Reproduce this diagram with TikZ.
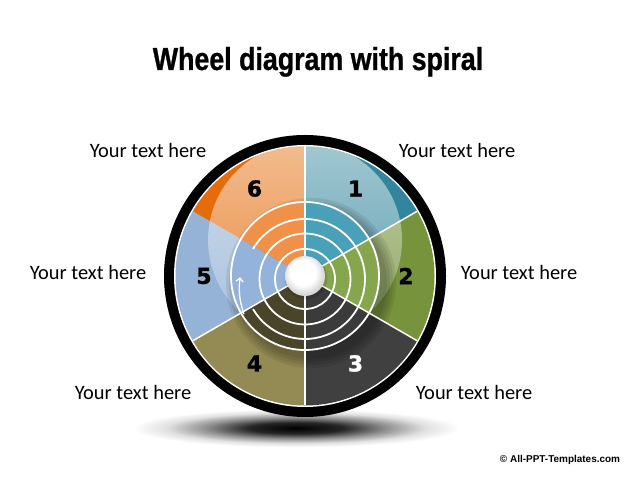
\documentclass[tikz,border=0pt]{standalone}
\usepackage{fontspec}
\setmainfont{Carlito}
\newfontfamily\titlefont[FakeStretch=0.84,FakeBold=0.8]{Liberation Sans}
\newfontfamily\numfont[FakeBold=1.2]{DejaVu Sans}
\newfontfamily\footfont{Liberation Sans}
\usepackage{tikz}
\usetikzlibrary{arrows.meta, positioning, calc, fadings}
\definecolor{segA}{HTML}{31859C}
\definecolor{segB}{HTML}{77933C}
\definecolor{segC}{HTML}{404040}
\definecolor{segD}{HTML}{948A54}
\definecolor{segE}{HTML}{95B3D7}
\definecolor{segF}{HTML}{E46C0A}
\definecolor{innA}{HTML}{4BA0B9}
\definecolor{innB}{HTML}{86A64E}
\definecolor{innC}{HTML}{3B3B3B}
\definecolor{innD}{HTML}{4A4428}
\definecolor{innE}{HTML}{93B3DB}
\definecolor{innF}{HTML}{EF9149}
\pgfdeclareradialshading{groundshadow}{\pgfpoint{0bp}{0bp}}{color(0bp)=(black); color(7bp)=(black!85); color(13bp)=(black!45); color(19bp)=(black!12); color(24bp)=(white); color(50bp)=(white)}
\pgfdeclareradialshading{ballglow}{\pgfpoint{-4bp}{6bp}}{color(0bp)=(white); color(16bp)=(white); color(25bp)=(black!15); color(50bp)=(black!15)}
\tikzfading[name=glossfade, top color=transparent!0, bottom color=transparent!65]

\begin{document}
\begin{tikzpicture}[x=1bp,y=1bp,
    lbl/.style={font=\fontsize{20.5}{24}\selectfont},
    num/.style={font=\numfont\bfseries\fontsize{22}{26}\selectfont},
    ring/.style={draw=white, line width=1.8bp},
    spoke/.style={draw=white, line width=1.5bp}]
    \useasboundingbox (0,0) rectangle (640,480);
    \fill[white] (0,0) rectangle (640,480);
    \node[font=\titlefont\bfseries\fontsize{32}{38}\selectfont, anchor=base] (title) at (318,410) {Wheel diagram with spiral};
    \shade[shading=groundshadow] (296,52) ellipse (170 and 20);
    \coordinate (C) at (305,204);
    \coordinate (S) at (305,201);
    \fill[black] (C) circle (141);
    \fill[white] (C) circle (131);
    \foreach \a/\col in {90/segA,30/segB,-30/segC,-90/segD,-150/segE,150/segF}
        \fill[\col] (C) -- ++(\a:129.5) arc[start angle=\a, end angle=\a-60, radius=129.5] -- cycle;
    \begin{scope}
        \clip (C) circle (129.5);
        \fill[white, path fading=glossfade, fill opacity=.55] (305,240) circle (97);
        \foreach \r in {76,79,82,85}
            \fill[black, fill opacity=.08] (311,197) circle (\r);
    \end{scope}
    \foreach \a/\col in {90/innA,30/innB,-30/innC,-90/innD,-150/innE,150/innF}
        \fill[\col] (C) -- ++(\a:74) arc[start angle=\a, end angle=\a-60, radius=74] -- cycle;
    \foreach \a in {90,30,...,-150}
        \draw[spoke] (C) -- ++(\a:129.5);
    \draw[ring] (C) circle (74);
    \draw[ring] (S) circle (45.5);
    \draw[ring] (S) circle (30);
    \draw[ring] ($(S)+(150:60)$) arc[start angle=150, end angle=-150, radius=60];
    \coordinate (spiralstart) at ($(C)+(212:72)$);
    \coordinate (spiralend) at ($(C)+(181:65)$);
    \draw[ring, line width=1.3bp, -{Straight Barb[length=3.5bp,width=7bp]}] (spiralstart) to[bend left=12] (spiralend);
    \fill[black, fill opacity=.12] ($(C)+(1,-2)$) circle (21.5);
    \shade[shading=ballglow] (C) circle (20);
    \foreach \n/\a/\col in {1/60/black,2/0/black,3/-60/white,4/-120/black,5/180/black,6/120/black}
        \node[num, text=\col] (n\n) at ($(C)+(\a:101)$) {\n};
    \node[lbl] (t1) at (457,330) {Your text here};
    \node[lbl] (t2) at (519,208) {Your text here};
    \node[lbl] (t3) at (474,88) {Your text here};
    \node[lbl] (t4) at (133,88) {Your text here};
    \node[lbl] (t5) at (88,208) {Your text here};
    \node[lbl] (t6) at (148,330) {Your text here};
    \node[font=\footfont\bfseries\fontsize{10}{12}\selectfont] (copy) at (560,20) {© All-PPT-Templates.com};
\end{tikzpicture}
\end{document}
